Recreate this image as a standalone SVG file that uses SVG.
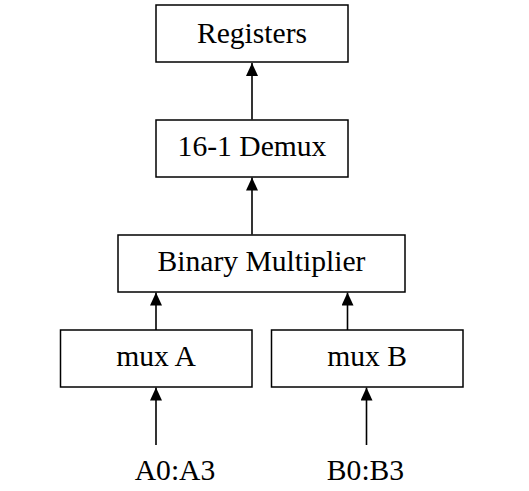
<svg xmlns="http://www.w3.org/2000/svg" width="529" height="491" viewBox="0 0 529 491">
<defs>
<style>
.box{fill:#fff;stroke:#000;stroke-width:1.5}
.lbl{font-family:"Liberation Serif","Times New Roman",serif;font-size:29.6px;fill:#000;text-anchor:middle}
.edge{stroke:#000;stroke-width:1.6;fill:none;marker-end:url(#ah)}
</style>
<marker id="ah" viewBox="0 0 13 12" refX="13" refY="6" markerWidth="13" markerHeight="12" markerUnits="userSpaceOnUse" orient="auto">
<path d="M0,0 L13,6 L0,12 Z" fill="#000"/>
</marker>
</defs>
<rect width="529" height="491" fill="#fff"/>
<g id="connectors">
<line class="edge" x1="252" y1="119.5" x2="252" y2="63"/>
<line class="edge" x1="252" y1="234.5" x2="252" y2="177.5"/>
<line class="edge" x1="156" y1="330" x2="156" y2="292.5"/>
<line class="edge" x1="347.5" y1="330" x2="347.5" y2="292.5"/>
<line class="edge" x1="156" y1="445" x2="156" y2="387.5"/>
<line class="edge" x1="366.5" y1="445" x2="366.5" y2="387.5"/>
</g>
<g id="registers">
<rect class="box" x="156" y="5" width="192" height="57"/>
<text class="lbl" x="252" y="42.5">Registers</text>
</g>
<g id="demux">
<rect class="box" x="156" y="120" width="192" height="57"/>
<text class="lbl" x="252" y="155.5">16-1 Demux</text>
</g>
<g id="multiplier">
<rect class="box" x="118" y="235" width="287" height="57"/>
<text class="lbl" x="261.5" y="271">Binary Multiplier</text>
</g>
<g id="muxA">
<rect class="box" x="60.5" y="330" width="191.5" height="57"/>
<text class="lbl" x="156" y="365.5">mux A</text>
</g>
<g id="muxB">
<rect class="box" x="271.5" y="330" width="191.5" height="57"/>
<text class="lbl" x="367" y="365.5">mux B</text>
</g>
<g id="inputA">
<text class="lbl" x="175" y="480">A0:A3</text>
</g>
<g id="inputB">
<text class="lbl" x="365.5" y="480">B0:B3</text>
</g>
</svg>
